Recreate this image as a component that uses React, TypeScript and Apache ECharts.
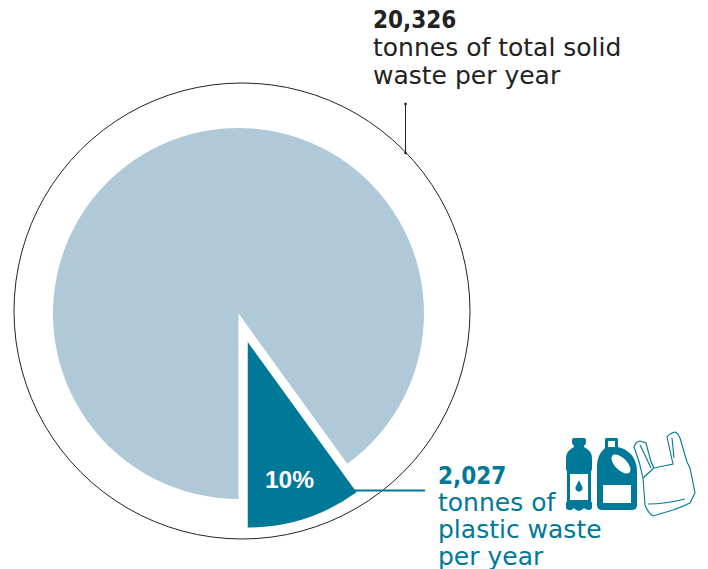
import React, { useEffect, useRef } from "react";
import * as echarts from "echarts";

// Waste tonnages per year
const totalWaste = 20326;
const plasticWaste = 2027;
const sliceNames = ["Plastic waste", "Other solid waste"];
const sliceValues = [plasticWaste, totalWaste - plasticWaste];

const totalLines = ["20,326", "tonnes of total solid", "waste per year"];
const plasticLines = ["2,027", "tonnes of", "plastic waste", "per year"];
const shareLabel = "10%";

const TEAL = "#007897";
const LIGHT = "#AFC9D8";
const INK = "#222222";
const SANS = '"DejaVu Sans", sans-serif';
const SANS_BOLD = '"DejaVu Sans Condensed", "Liberation Sans", sans-serif';

// Pictogram outlines, in page pixels
const BOTTLE =
  "M574 438 L584 438 Q586 438 586 440 L586 443 Q585 445 584 446 L584 447 Q592 451 592 458 L592 469 L591 472 L591 501 L592 503 L592 507 Q592 510 589 510 Q586 510 584 508 Q581 511 579 511 Q576 511 574 508 Q571 511 569 510 Q566 510 566 507 L566 503 L567 501 L567 472 L566 469 L566 458 Q566 451 574 447 L574 446 Q573 445 572 443 L572 440 Q572 438 574 438 Z";
const JUG =
  "M606 438 L617 438 Q618 438 618 440 L618 447 L624 449 Q637 456 637 472 L637 505 Q637 510 632 510 L602 510 Q597 510 597 505 L597 466 Q597 455 605 448 L605 440 Q605 438 606 438 Z";
const BAG =
  "M634 447 Q636 441 640 441 L646 443 L650 458 Q652 465 654 468 L673 464 L667 437 Q670 433 675 432 Q678 433 680 438 L687 462 L690 468 L695 493 L690 503 Q682 507 673 510 L653 516 Q648 513 645 505 L643 478 Q640 462 634 447 Z M640 445 Q645 455 651 468 M672 438 Q673 448 674 458 M648 504 Q665 504 685 499 M654 468 L643 478";

echarts.graphic.registerShape("plasticBottle", echarts.graphic.extendPath(BOTTLE, {}));
echarts.graphic.registerShape("plasticJug", echarts.graphic.extendPath(JUG, {}));
echarts.graphic.registerShape("plasticBag", echarts.graphic.extendPath(BAG, {}));

const textLine = (
  text: string,
  x: number,
  y: number,
  fill: string,
  bold = false
) => ({
  type: "text",
  style: {
    text,
    x,
    y,
    fill,
    font: bold ? `bold 24px ${SANS_BOLD}` : `25px ${SANS}`,
    verticalAlign: "middle",
  },
});

export default function App() {
  const ref = useRef<HTMLDivElement>(null);

  useEffect(() => {
    const chart = echarts.init(ref.current!, undefined, { renderer: "svg" });
    chart.setOption({
      animation: false,
      backgroundColor: "#ffffff",
      series: [
        {
          type: "pie",
          center: [238.5, 313.5],
          radius: [0, 185.5],
          startAngle: 270,
          clockwise: false,
          selectedMode: "multiple",
          selectedOffset: 30,
          silent: true,
          label: { show: false },
          labelLine: { show: false },
          data: sliceValues.map((value, i) => ({
            name: sliceNames[i],
            value,
            selected: i === 0,
            itemStyle: { color: i === 0 ? TEAL : LIGHT },
          })),
        },
      ],
      graphic: [
        {
          type: "circle",
          shape: { cx: 242, cy: 311, r: 228 },
          style: { fill: "none", stroke: "#222222", lineWidth: 1 },
          silent: true,
          z: 10,
        },
        {
          type: "line",
          shape: { x1: 405.5, y1: 104, x2: 405.5, y2: 153 },
          style: { stroke: "#222222", lineWidth: 1 },
          z: 10,
        },
        { type: "circle", shape: { cx: 405.5, cy: 104, r: 1.3 }, style: { fill: "#222222" }, z: 10 },
        { type: "circle", shape: { cx: 405.5, cy: 153, r: 1.3 }, style: { fill: "#222222" }, z: 10 },
        {
          type: "line",
          shape: { x1: 350, y1: 490.5, x2: 425, y2: 490.5 },
          style: { stroke: TEAL, lineWidth: 2 },
          z: 10,
        },
        {
          type: "text",
          style: {
            text: shareLabel,
            x: 289.5,
            y: 479,
            fill: "#ffffff",
            fontFamily: '"Liberation Sans"',
            fontWeight: "bold",
            fontSize: 24.5,
            align: "center",
            verticalAlign: "middle",
          },
          z: 11,
        },
        ...totalLines.map((t, i) => ({
          ...textLine(t, 373, 20 + i * 27.5, INK, i === 0),
          z: 11,
        })),
        ...plasticLines.map((t, i) => ({
          ...textLine(t, 438, 476 + i * 26.7, TEAL, i === 0),
          z: 11,
        })),
        { type: "plasticBottle", style: { fill: TEAL }, z: 12 },
        { type: "rect", shape: { x: 570, y: 474, width: 18, height: 26 }, style: { fill: "#ffffff" }, z: 13 },
        { type: "circle", shape: { cx: 579, cy: 488, r: 3.6 }, style: { fill: TEAL }, z: 14 },
        { type: "polygon", shape: { points: [[579, 480], [575.8, 487], [582.2, 487]] }, style: { fill: TEAL }, z: 14 },
        { type: "plasticJug", style: { fill: TEAL }, z: 12 },
        { type: "rect", shape: { x: 608, y: 441, width: 7, height: 6 }, style: { fill: "#ffffff" }, z: 13 },
        { type: "rect", shape: { x: 603, y: 485, width: 28, height: 18 }, style: { fill: "#ffffff" }, z: 13 },
        {
          type: "ellipse",
          shape: { cx: 0, cy: 0, rx: 12, ry: 6 },
          x: 621,
          y: 464,
          rotation: -Math.PI / 4,
          style: { fill: "#ffffff" },
          z: 13,
        },
        { type: "plasticBag", style: { fill: "none", stroke: TEAL, lineWidth: 1.1 }, z: 12 },
      ],
    });
    return () => chart.dispose();
  }, []);

  return (
    <div
      ref={ref}
      style={{ position: "fixed", left: 0, top: 0, width: 708, height: 569 }}
    />
  );
}
